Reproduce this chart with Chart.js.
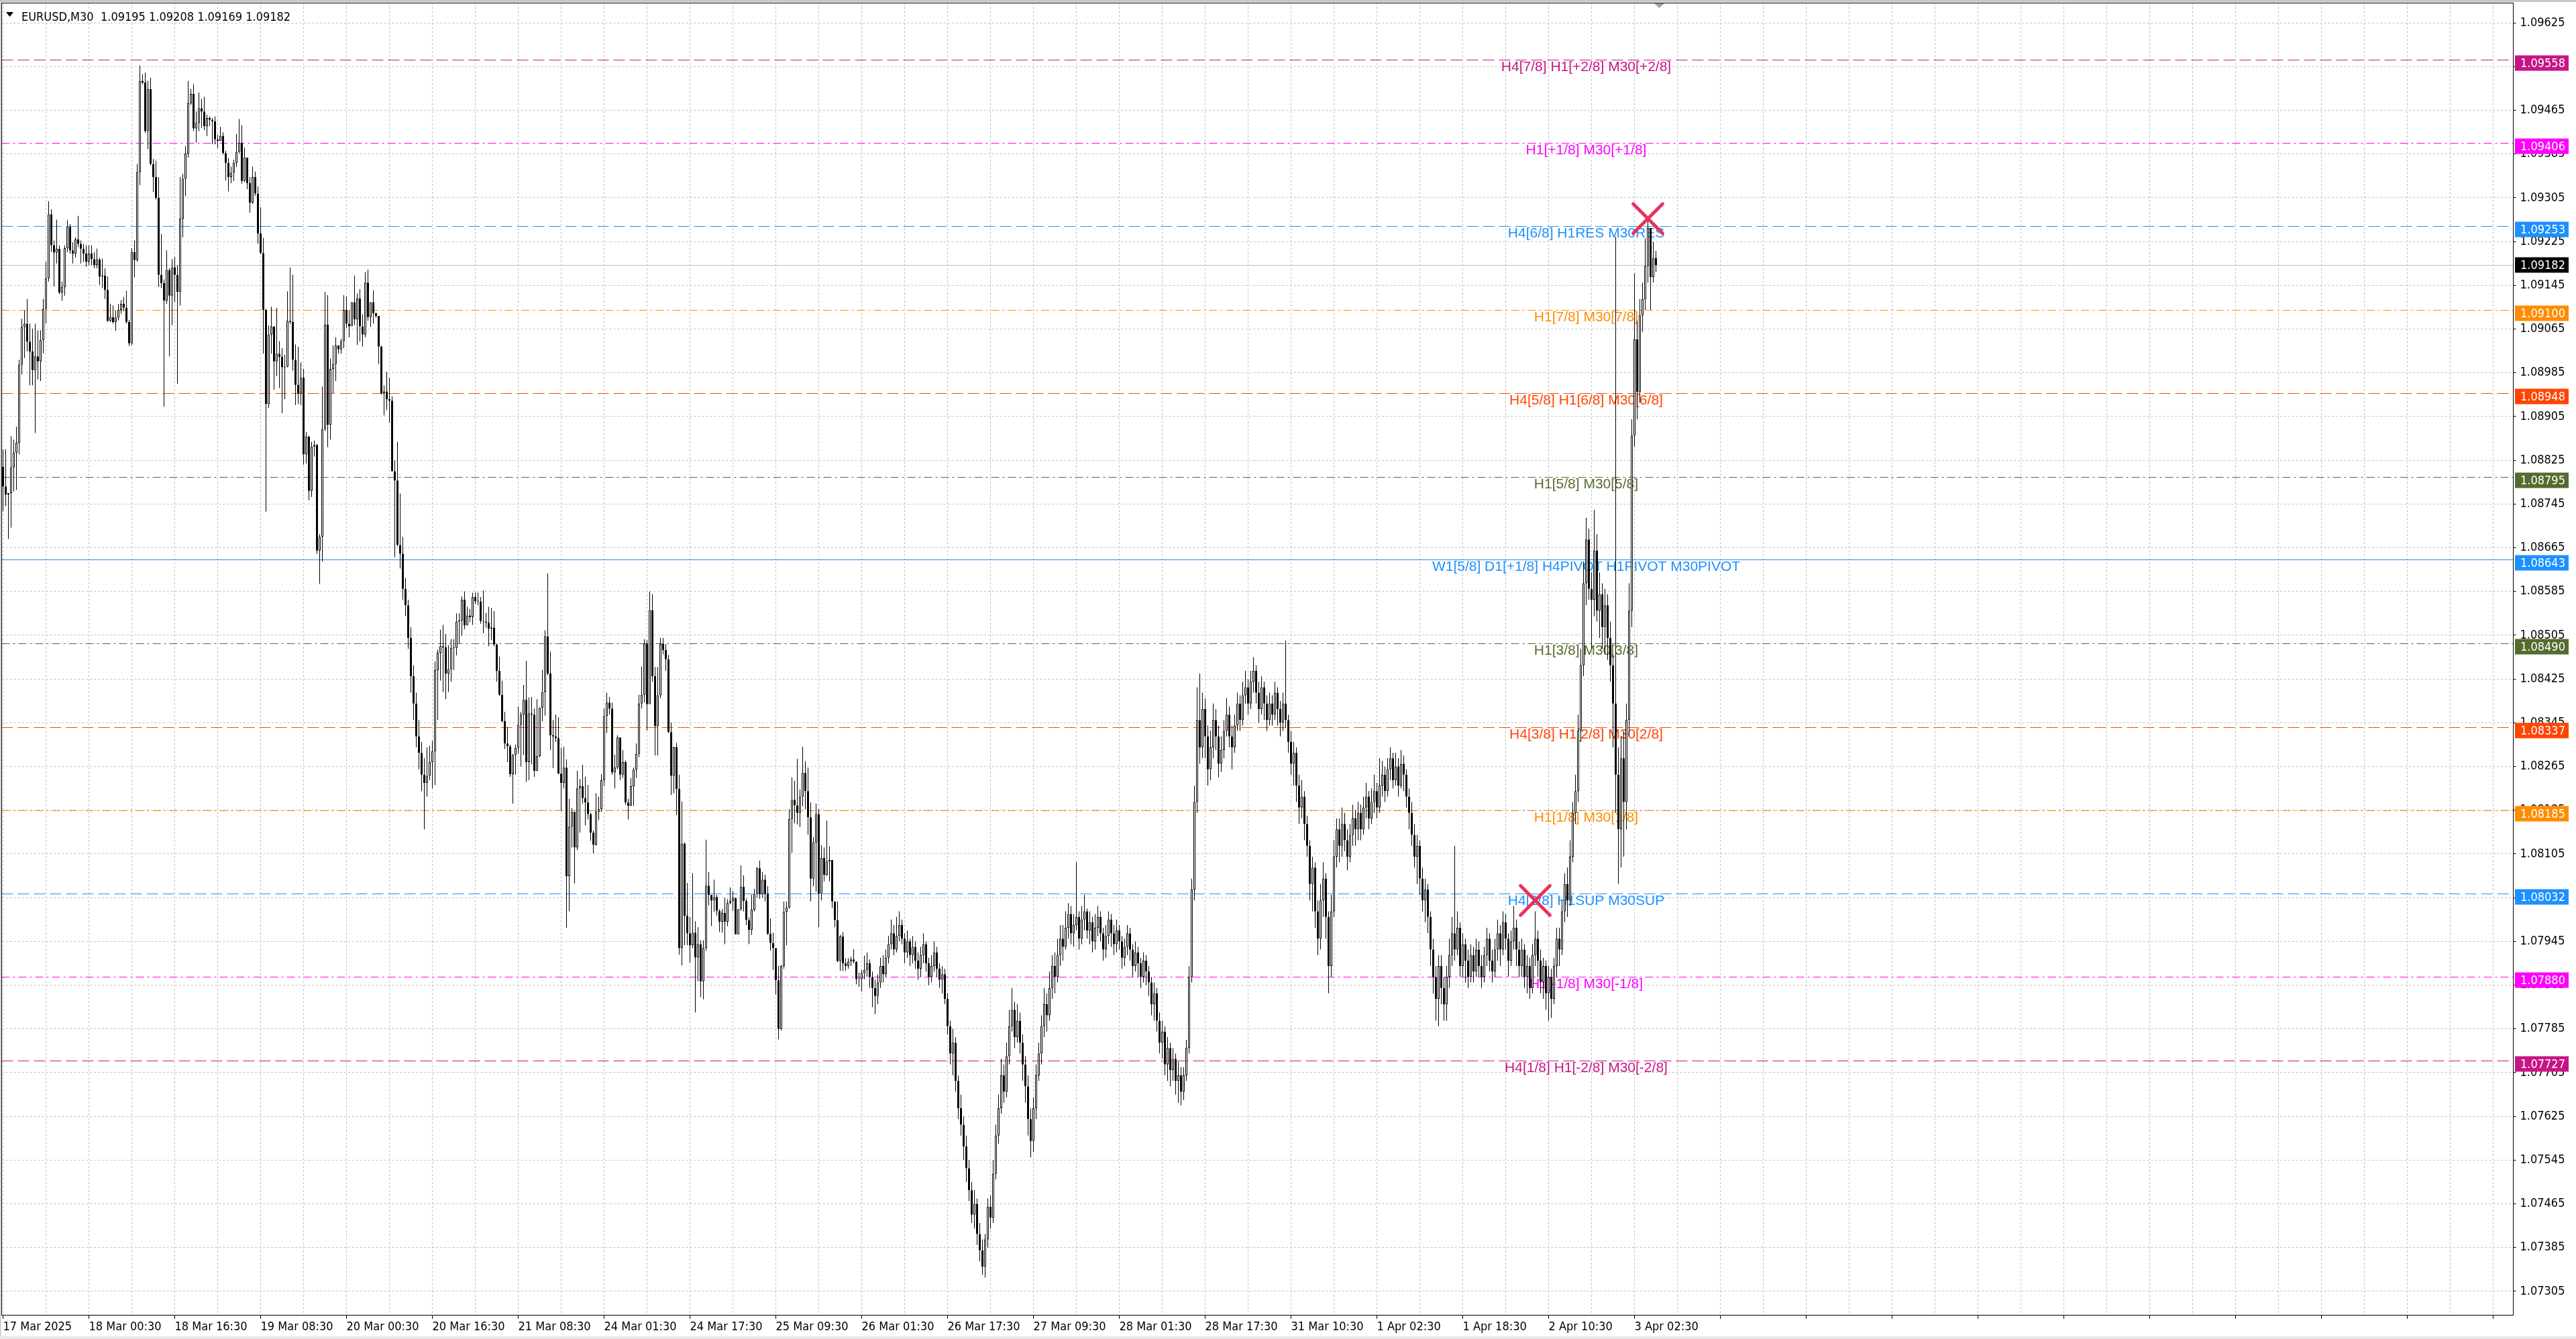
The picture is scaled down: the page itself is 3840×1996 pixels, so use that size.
<!DOCTYPE html>
<html>
<head>
<meta charset="utf-8">
<title>EURUSD,M30</title>
<style>
  html, body { margin: 0; padding: 0; background: #fff; }
  #wrap { width: 3840px; height: 1996px; }
  canvas { display: block; }
</style>
<script src="https://cdn.jsdelivr.net/npm/chart.js@4.4.1/dist/chart.umd.min.js"></script>
</head>
<body>
<div id="wrap"><canvas id="chart" width="3840" height="1996"></canvas></div>
<script>
// prices are the digits after "1.0": 8777 -> 1.08777
const symbolName = 'EURUSD,M30';
const firstOpen = 8813;

const closes = [
  8777, 8762, 8765, 8812, 8839, 8857, 9000, 9069, 9075, 9042,
  9024, 8990, 9015, 9006, 9045, 9102, 9158, 9275, 9218, 9205,
  9212, 9132, 9142, 9213, 9252, 9209, 9203, 9229, 9221, 9212,
  9203, 9188, 9203, 9193, 9182, 9192, 9161, 9163, 9137, 9080,
  9087, 9078, 9086, 9100, 9111, 9104, 9078, 9039, 9206, 9191,
  9352, 9519, 9516, 9427, 9504, 9367, 9343, 9305, 9164, 9149,
  9117, 9173, 9126, 9178, 9164, 9133, 9267, 9340, 9386, 9478,
  9495, 9432, 9442, 9469, 9463, 9436, 9451, 9448, 9445, 9412,
  9409, 9418, 9387, 9369, 9343, 9351, 9369, 9389, 9406, 9336,
  9379, 9332, 9296, 9343, 9313, 9240, 9204, 9100, 8928, 9055,
  9070, 9006, 9020, 9014, 8995, 8996, 9080, 9078, 9009, 8963,
  8947, 8976, 8836, 8868, 8769, 8850, 8853, 8660, 8685, 8882,
  9073, 8890, 8992, 9001, 9035, 9028, 9043, 9100, 9075, 9070,
  9114, 9083, 9121, 9070, 9055, 9150, 9087, 9114, 9094, 9089,
  9033, 8948, 8951, 8937, 8934, 8805, 8788, 8670, 8654, 8590,
  8560, 8500, 8430, 8380, 8320, 8290, 8250, 8235, 8248, 8273,
  8293, 8441, 8473, 8485, 8483, 8435, 8443, 8482, 8482, 8530,
  8532, 8570, 8523, 8541, 8538, 8575, 8567, 8567, 8531, 8530,
  8528, 8517, 8519, 8488, 8440, 8396, 8348, 8307, 8302, 8251,
  8286, 8299, 8341, 8360, 8387, 8273, 8362, 8360, 8257, 8284,
  8372, 8401, 8503, 8435, 8322, 8320, 8317, 8252, 8235, 8263,
  8064, 8155, 8182, 8117, 8225, 8229, 8207, 8199, 8178, 8144,
  8122, 8182, 8187, 8240, 8357, 8382, 8371, 8254, 8263, 8318,
  8250, 8273, 8199, 8193, 8229, 8259, 8288, 8380, 8396, 8490,
  8379, 8551, 8430, 8339, 8395, 8489, 8478, 8461, 8328, 8248,
  8300, 8224, 7933, 8124, 7992, 7960, 7938, 7961, 7916, 7940,
  7872, 7933, 8047, 8030, 8020, 8026, 8001, 7981, 7997, 7981,
  8015, 8019, 8025, 7958, 8004, 8045, 8019, 7984, 7966, 8003,
  8032, 8079, 8031, 8058, 8032, 7959, 7942, 7933, 7874, 7785,
  7900, 7999, 8007, 8169, 8204, 8194, 8180, 8210, 8253, 8220,
  8172, 8060, 8126, 8178, 8032, 8098, 8067, 8091, 8094, 8018,
  7984, 7909, 7954, 7905, 7900, 7908, 7912, 7908, 7876, 7876,
  7887, 7893, 7905, 7880, 7860, 7845, 7870, 7900, 7885, 7915,
  7940, 7960, 7930, 7955, 7975, 7950, 7925, 7945, 7920, 7935,
  7910, 7895, 7920, 7940, 7905, 7880, 7900, 7925, 7895, 7875,
  7885, 7840, 7790, 7740, 7760, 7690, 7640, 7610, 7570, 7530,
  7490, 7445, 7465, 7410, 7380, 7350, 7400, 7460, 7440, 7520,
  7590, 7640, 7700, 7670, 7735, 7790, 7820, 7770, 7800, 7760,
  7720, 7680, 7620, 7580, 7640, 7700, 7740, 7790, 7830, 7810,
  7860, 7900, 7880, 7920, 7950, 7935, 7970, 7995, 7960, 7975,
  7990, 7950, 7985, 8000, 7965, 7980, 7945, 7970, 7990, 7960,
  7930, 7955, 7985, 7960, 7940, 7965, 7945, 7915, 7935, 7960,
  7930, 7900, 7925, 7905, 7880, 7910, 7890, 7870, 7830, 7850,
  7800, 7760, 7780, 7720, 7750, 7710, 7730, 7690, 7700, 7670,
  7700, 7750, 7880, 8040, 8200, 8350, 8300, 8370, 8320, 8260,
  8300, 8350, 8320, 8270, 8295, 8330, 8360, 8320, 8300, 8340,
  8380, 8350, 8395, 8410, 8380, 8420, 8440, 8400, 8370, 8410,
  8380, 8350, 8380, 8360, 8400, 8370, 8345, 8380, 8350, 8310,
  8270, 8290, 8230, 8190, 8210, 8160, 8120, 8050, 8080, 8000,
  7950, 8020, 8060, 7990, 7900, 8000, 8100, 8150, 8120, 8160,
  8130, 8100, 8140, 8170, 8150, 8180, 8150, 8190, 8210, 8170,
  8200, 8220, 8190, 8230, 8250, 8220, 8260, 8280, 8240, 8265,
  8230, 8270, 8250, 8210, 8180, 8140, 8100, 8120, 8060, 8020,
  8040, 7990, 7930, 7880, 7840, 7900, 7860, 7830, 7880, 7920,
  7960, 7930, 7970, 7900, 7940, 7910, 7880, 7920, 7890, 7930,
  7900, 7880, 7920, 7950, 7910, 7890, 7930, 7960, 7930, 7980,
  7950, 7910, 7945, 7970, 7930, 7900, 7930, 7880, 7900, 7860,
  7920, 7950, 7910, 7870, 7900, 7850, 7880, 7840, 7900, 7950,
  7930, 8000, 8050, 8020, 8100, 8180, 8220, 8330, 8450, 8600,
  8680, 8590, 8570, 8660, 8550, 8580, 8520, 8560, 8500, 8450,
  8380, 8250, 8150, 8280, 8200, 8350, 8550, 8870, 9046, 8950,
  9090, 9120, 9180, 9250, 9160, 9195, 9182
];

const highs = [
  8845, 8845, 8765, 8869, 8863, 8887, 9009, 9084, 9099, 9120,
  9075, 9066, 9075, 9063, 9063, 9120, 9188, 9299, 9284, 9227,
  9265, 9218, 9152, 9218, 9264, 9257, 9224, 9233, 9272, 9227,
  9221, 9218, 9218, 9218, 9206, 9212, 9195, 9194, 9176, 9161,
  9111, 9108, 9099, 9111, 9118, 9124, 9135, 9082, 9213, 9227,
  9367, 9547, 9531, 9534, 9519, 9525, 9376, 9373, 9343, 9239,
  9156, 9209, 9176, 9193, 9197, 9182, 9343, 9349, 9400, 9519,
  9504, 9513, 9463, 9498, 9486, 9490, 9457, 9454, 9451, 9454,
  9421, 9435, 9425, 9391, 9378, 9362, 9375, 9422, 9449, 9438,
  9397, 9376, 9343, 9362, 9353, 9326, 9288, 9232, 9102, 9072,
  9106, 9070, 9104, 9043, 9030, 9018, 9134, 9178, 9164, 9037,
  9033, 9004, 8992, 8877, 8870, 8859, 8861, 8855, 8690, 8960,
  9133, 9127, 9011, 9035, 9050, 9035, 9047, 9127, 9125, 9099,
  9114, 9163, 9130, 9138, 9092, 9169, 9174, 9114, 9136, 9095,
  9089, 9035, 8962, 8987, 8976, 8942, 8825, 8859, 8764, 8685,
  8610, 8570, 8520, 8450, 8400, 8350, 8310, 8280, 8300, 8303,
  8312, 8457, 8479, 8515, 8524, 8507, 8487, 8498, 8498, 8545,
  8545, 8576, 8585, 8557, 8553, 8583, 8583, 8583, 8575, 8587,
  8546, 8557, 8555, 8549, 8490, 8466, 8422, 8365, 8337, 8305,
  8288, 8305, 8375, 8365, 8414, 8458, 8391, 8392, 8371, 8388,
  8373, 8442, 8514, 8618, 8475, 8350, 8360, 8355, 8299, 8301,
  8278, 8206, 8189, 8182, 8257, 8242, 8268, 8246, 8231, 8180,
  8148, 8216, 8210, 8251, 8371, 8400, 8392, 8382, 8287, 8322,
  8317, 8295, 8276, 8206, 8244, 8263, 8307, 8396, 8448, 8498,
  8496, 8585, 8580, 8447, 8447, 8500, 8500, 8489, 8469, 8345,
  8301, 8308, 8250, 8201, 8126, 8052, 7990, 8070, 7982, 7971,
  7947, 7947, 8131, 8072, 8030, 8058, 8030, 8004, 8004, 8025,
  8022, 8044, 8037, 8022, 8004, 8084, 8066, 8023, 7989, 8030,
  8041, 8081, 8093, 8072, 8067, 8046, 7987, 7961, 7933, 7900,
  7902, 8018, 8018, 8187, 8245, 8239, 8279, 8223, 8301, 8275,
  8263, 8199, 8136, 8197, 8187, 8121, 8117, 8166, 8119, 8094,
  8018, 8018, 7957, 7962, 7914, 7914, 7917, 7931, 7909, 7888,
  7893, 7919, 7925, 7912, 7890, 7875, 7885, 7915, 7920, 7930,
  7955, 7985, 7975, 7990, 8000, 7985, 7960, 7965, 7950, 7955,
  7945, 7925, 7935, 7960, 7945, 7915, 7920, 7945, 7935, 7905,
  7900, 7895, 7850, 7800, 7785, 7770, 7700, 7665, 7625, 7590,
  7545, 7505, 7490, 7475, 7430, 7400, 7410, 7475, 7480, 7545,
  7610, 7665, 7730, 7720, 7760, 7820, 7860, 7835, 7830, 7815,
  7775, 7735, 7700, 7640, 7660, 7720, 7760, 7810, 7860, 7850,
  7890, 7920, 7925, 7950, 7975, 7975, 8000, 8015, 8010, 7995,
  8090, 8000, 8010, 8030, 8005, 8000, 7990, 7995, 8010, 8000,
  7970, 7975, 8000, 7995, 7975, 7985, 7975, 7955, 7950, 7975,
  7970, 7940, 7945, 7935, 7915, 7925, 7920, 7900, 7880, 7870,
  7860, 7815, 7800, 7790, 7770, 7760, 7750, 7740, 7725, 7715,
  7715, 7765, 7900, 8060, 8230, 8410, 8435, 8400, 8390, 8340,
  8330, 8380, 8370, 8340, 8320, 8350, 8390, 8375, 8340, 8360,
  8400, 8395, 8420, 8440, 8425, 8440, 8465, 8450, 8420, 8430,
  8420, 8395, 8400, 8395, 8420, 8410, 8385, 8400, 8495, 8360,
  8330, 8310, 8300, 8250, 8240, 8220, 8175, 8130, 8100, 8090,
  8020, 8050, 8090, 8070, 8000, 8030, 8130, 8170, 8170, 8190,
  8180, 8150, 8160, 8195, 8185, 8200, 8195, 8210, 8235, 8220,
  8225, 8250, 8235, 8280, 8275, 8265, 8280, 8300, 8290, 8290,
  8280, 8295, 8285, 8260, 8225, 8200, 8160, 8140, 8130, 8080,
  8060, 8050, 8000, 7950, 7900, 7920, 7920, 7880, 7900, 7950,
  7990, 8120, 8000, 7980, 7960, 7950, 7930, 7940, 7935, 7950,
  7945, 7920, 7935, 7970, 7960, 7930, 7950, 7985, 7975, 8000,
  7995, 7960, 7965, 8010, 7985, 7945, 7950, 7940, 7920, 7915,
  7940, 8000, 7965, 7930, 7915, 7910, 7900, 7895, 7915, 7970,
  7970, 8020, 8070, 8080, 8130, 8200, 8250, 8360, 8480, 8640,
  8720, 8700, 8620, 8734, 8690, 8620, 8600, 8590, 8580, 8530,
  8470, 9234, 8300, 8320, 8330, 8380, 8600, 8900, 9167, 9080,
  9120, 9150, 9231, 9265, 9240, 9225, 9208
];

const lows = [
  8732, 8741, 8681, 8702, 8768, 8771, 8836, 8982, 9012, 9024,
  8962, 8962, 8875, 8973, 8970, 9021, 9075, 9152, 9206, 9143,
  9185, 9129, 9117, 9126, 9206, 9203, 9185, 9196, 9215, 9185,
  9188, 9179, 9182, 9182, 9176, 9176, 9146, 9140, 9120, 9078,
  9078, 9075, 9062, 9081, 9093, 9098, 9075, 9034, 9036, 9160,
  9188, 9328, 9513, 9424, 9394, 9364, 9316, 9302, 9142, 9140,
  8923, 9111, 9015, 9072, 9114, 8965, 9108, 9233, 9308, 9379,
  9475, 9427, 9406, 9427, 9433, 9429, 9418, 9436, 9403, 9403,
  9396, 9409, 9384, 9337, 9317, 9332, 9336, 9362, 9386, 9331,
  9334, 9321, 9278, 9294, 9309, 9221, 9202, 9020, 8731, 8921,
  9020, 8954, 8979, 8957, 8911, 8937, 8995, 9074, 8989, 8926,
  8928, 8926, 8817, 8819, 8752, 8758, 8832, 8654, 8599, 8640,
  8879, 8849, 8863, 8948, 8970, 9020, 9020, 9030, 9067, 9050,
  9072, 9072, 9036, 9042, 9033, 9050, 9080, 9069, 9075, 9086,
  9001, 8945, 8907, 8917, 8894, 8804, 8648, 8668, 8627, 8570,
  8540, 8480, 8400, 8350, 8300, 8260, 8220, 8150, 8210, 8240,
  8225, 8231, 8350, 8422, 8401, 8388, 8401, 8420, 8441, 8468,
  8490, 8504, 8516, 8528, 8529, 8524, 8562, 8560, 8526, 8509,
  8519, 8485, 8496, 8485, 8420, 8394, 8346, 8297, 8273, 8246,
  8197, 8250, 8288, 8265, 8286, 8237, 8240, 8269, 8246, 8260,
  8282, 8348, 8358, 8432, 8295, 8262, 8310, 8251, 8184, 8225,
  7970, 8000, 8117, 8051, 8112, 8144, 8197, 8157, 8168, 8129,
  8106, 8120, 8167, 8182, 8229, 8326, 8360, 8250, 8225, 8260,
  8240, 8244, 8195, 8168, 8193, 8193, 8244, 8282, 8371, 8382,
  8331, 8382, 8420, 8285, 8285, 8390, 8470, 8440, 8326, 8213,
  8216, 8176, 7921, 7901, 7938, 7938, 7906, 7933, 7815, 7872,
  7843, 7839, 7928, 8011, 7973, 7999, 7992, 7962, 7961, 7940,
  7973, 8013, 8001, 7958, 7958, 8001, 8000, 7975, 7940, 7957,
  8000, 8025, 8023, 8025, 8018, 7957, 7928, 7893, 7848, 7766,
  7782, 7895, 7938, 8005, 8107, 8161, 8159, 8154, 8192, 8187,
  8140, 8018, 8046, 8036, 7971, 8020, 8055, 8065, 8055, 8006,
  7971, 7907, 7891, 7891, 7891, 7895, 7900, 7905, 7867, 7862,
  7853, 7876, 7880, 7860, 7825, 7812, 7830, 7860, 7870, 7880,
  7905, 7930, 7920, 7925, 7945, 7940, 7905, 7915, 7900, 7905,
  7895, 7875, 7880, 7905, 7890, 7865, 7870, 7890, 7880, 7860,
  7850, 7830, 7775, 7720, 7700, 7670, 7620, 7590, 7545, 7505,
  7470, 7430, 7420, 7390, 7360, 7335, 7330, 7385, 7420, 7430,
  7510, 7575, 7630, 7650, 7660, 7720, 7780, 7750, 7760, 7740,
  7690, 7650, 7590, 7550, 7560, 7620, 7690, 7720, 7770, 7780,
  7800, 7840, 7850, 7870, 7900, 7910, 7930, 7950, 7940, 7935,
  7965, 7930, 7940, 7965, 7950, 7940, 7925, 7930, 7955, 7945,
  7910, 7915, 7940, 7935, 7920, 7925, 7930, 7895, 7900, 7920,
  7910, 7880, 7890, 7880, 7860, 7870, 7865, 7845, 7810, 7800,
  7780, 7740, 7730, 7700, 7690, 7680, 7690, 7665, 7650, 7645,
  7655, 7690, 7740, 7870, 8020, 8180, 8270, 8280, 8280, 8230,
  8240, 8280, 8295, 8245, 8255, 8280, 8320, 8300, 8260, 8290,
  8330, 8330, 8340, 8380, 8360, 8370, 8400, 8380, 8345, 8360,
  8350, 8330, 8340, 8340, 8350, 8340, 8320, 8330, 8335, 8290,
  8250, 8230, 8200, 8160, 8170, 8130, 8100, 8020, 8000, 7970,
  7920, 7930, 7990, 7950, 7850, 7880, 7990, 8080, 8090, 8100,
  8110, 8075, 8090, 8120, 8120, 8130, 8130, 8140, 8170, 8150,
  8160, 8180, 8170, 8180, 8210, 8200, 8210, 8240, 8225, 8230,
  8210, 8225, 8220, 8190, 8150, 8120, 8080, 8050, 8030, 8000,
  7980, 7960, 7900, 7850, 7800, 7790, 7830, 7800, 7800, 7860,
  7900, 7910, 7920, 7880, 7880, 7870, 7860, 7870, 7870, 7880,
  7880, 7860, 7870, 7900, 7890, 7870, 7880, 7910, 7900, 7920,
  7930, 7880, 7900, 7930, 7900, 7880, 7880, 7860, 7850, 7840,
  7850, 7900, 7880, 7850, 7840, 7820, 7800, 7805, 7830, 7880,
  7900, 7920, 7980, 7990, 8010, 8090, 8160, 8200, 8310, 8430,
  8560, 8570, 8480, 8540, 8530, 8500, 8480, 8470, 8460, 8420,
  8300, 8180, 8050, 8080, 8100, 8150, 8320, 8520, 8850, 8900,
  8930, 9060, 9100, 9150, 9100, 9150, 9169
];

// Murrey math levels drawn across the chart
const levelPrices = [1.09558, 1.09406, 1.09253, 1.09100, 1.08948, 1.08795, 1.08643,
                     1.08490, 1.08337, 1.08185, 1.08032, 1.07880, 1.07727];
const levelNames = [
  'H4[7/8] H1[+2/8] M30[+2/8]',
  'H1[+1/8] M30[+1/8]',
  'H4[6/8] H1RES M30RES',
  'H1[7/8] M30[7/8]',
  'H4[5/8] H1[6/8] M30[6/8]',
  'H1[5/8] M30[5/8]',
  'W1[5/8] D1[+1/8] H4PIVOT H1PIVOT M30PIVOT',
  'H1[3/8] M30[3/8]',
  'H4[3/8] H1[2/8] M30[2/8]',
  'H1[1/8] M30[1/8]',
  'H4[2/8] H1SUP M30SUP',
  'H1[-1/8] M30[-1/8]',
  'H4[1/8] H1[-2/8] M30[-2/8]'
];

// signal crosses (bar index, price)
const signalBars = [613, 571];
const signalPrices = [1.09267, 1.08020];

const priceTicks = [1.09625, 1.09545, 1.09465, 1.09385, 1.09305, 1.09225, 1.09145, 1.09065,
                    1.08985, 1.08905, 1.08825, 1.08745, 1.08665, 1.08585, 1.08505, 1.08425,
                    1.08345, 1.08265, 1.08185, 1.08105, 1.08025, 1.07945, 1.07865, 1.07785,
                    1.07705, 1.07625, 1.07545, 1.07465, 1.07385, 1.07305];
const timeLabels = ['17 Mar 2025', '18 Mar 00:30', '18 Mar 16:30', '19 Mar 08:30', '20 Mar 00:30',
                    '20 Mar 16:30', '21 Mar 08:30', '24 Mar 01:30', '24 Mar 17:30', '25 Mar 09:30',
                    '26 Mar 01:30', '26 Mar 17:30', '27 Mar 09:30', '28 Mar 01:30', '28 Mar 17:30',
                    '31 Mar 10:30', '1 Apr 02:30', '1 Apr 18:30', '2 Apr 10:30', '3 Apr 02:30'];

// styles
const levelColors = ['#C71585', '#FF00FF', '#1E90FF', '#FF8C00', '#FF4500', '#556B2F', '#1E90FF',
                     '#556B2F', '#FF4500', '#FF8C00', '#1E90FF', '#FF00FF', '#C71585'];
const levelDash = ['dash', 'dashdot', 'dash', 'dashdot', 'dash', 'dashdot', 'solid',
                   'dashdot', 'dash', 'dashdot', 'dash', 'dashdot', 'dash'];
const dashPatterns = { solid: [], dash: [17, 7], dashdot: [12, 5, 3, 5] };
const SLOTS = 936;          // 4px per bar across the plot
const LABEL_BAR = 590;      // level captions are centred on this bar
const BARS_PER_LABEL = 32;
const AXIS_FAMILY = "'DejaVu Sans Condensed', 'DejaVu Sans', sans-serif";
const LEVEL_FONT = "21px 'Liberation Sans', Arial, sans-serif";

const toPrice = v => 1 + v / 100000;
const openOf = i => (i === 0 ? firstOpen : closes[i - 1]);

const slotLabels = Array.from({ length: SLOTS }, (_, i) => i);
const bodyData = closes.map((c, i) => [toPrice(openOf(i)), toPrice(c)]);
const wickData = highs.map((h, i) => [toPrice(lows[i]), toPrice(h)]);
const bodyFill = closes.map((c, i) => (c > openOf(i) ? '#ffffff' : '#000000'));
const lastIdx = closes.length - 1;
const lastPrice = toPrice(closes[lastIdx]);

const overlayPlugin = {
  id: 'overlay',
  beforeDatasetsDraw(chart) {
    const { ctx, chartArea: a, scales: { x, y } } = chart;
    ctx.save();
    ctx.beginPath();
    ctx.rect(a.left, a.top, a.width, a.height);
    ctx.clip();
    ctx.lineWidth = 1;

    // current bid line
    const py = Math.round(y.getPixelForValue(lastPrice)) + 0.5;
    ctx.strokeStyle = '#c0c0c0';
    ctx.setLineDash([]);
    ctx.beginPath();
    ctx.moveTo(a.left, py);
    ctx.lineTo(a.right, py);
    ctx.stroke();

    levelPrices.forEach((p, i) => {
      const ly = Math.round(y.getPixelForValue(p)) + 0.5;
      ctx.strokeStyle = levelColors[i];
      ctx.setLineDash(dashPatterns[levelDash[i]]);
      ctx.beginPath();
      ctx.moveTo(a.left, ly);
      ctx.lineTo(a.right, ly);
      ctx.stroke();
    });
    ctx.setLineDash([]);

    ctx.font = LEVEL_FONT;
    ctx.textAlign = 'center';
    ctx.textBaseline = 'top';
    const tx = x.getPixelForValue(LABEL_BAR);
    levelPrices.forEach((p, i) => {
      ctx.fillStyle = levelColors[i];
      ctx.fillText(levelNames[i], tx, Math.round(y.getPixelForValue(p)) + 1);
    });
    ctx.restore();
  },
  beforeDatasetDraw(chart, args) {
    if (args.index === 2) chart.ctx.lineCap = 'round';
  },
  afterDatasetDraw(chart, args) {
    if (args.index === 2) chart.ctx.lineCap = 'butt';
  },
  afterDraw(chart) {
    const { ctx, chartArea: a, scales: { y } } = chart;
    ctx.save();

    // window edges
    ctx.fillStyle = '#c8c8c8';
    ctx.fillRect(0, 0, chart.width, 3);
    ctx.fillRect(0, 0, 1.5, chart.height);
    ctx.fillStyle = '#e6e6e6';
    ctx.fillRect(0, chart.height - 4, chart.width, 4);

    // chart frame
    ctx.strokeStyle = '#000';
    ctx.lineWidth = 1;
    ctx.strokeRect(a.left, a.top + 0.5, a.right - a.left, a.bottom - a.top);

    // chart shift marker
    ctx.fillStyle = '#a0a0a0';
    ctx.beginPath();
    ctx.moveTo(2466, a.top + 1);
    ctx.lineTo(2481, a.top + 1);
    ctx.lineTo(2473.5, a.top + 8);
    ctx.closePath();
    ctx.fill();

    // price boxes on the right axis
    ctx.font = '18px ' + AXIS_FAMILY;
    ctx.textAlign = 'left';
    ctx.textBaseline = 'middle';
    levelPrices.forEach((p, i) => {
      const cy = Math.round(y.getPixelForValue(p)) + 5;
      ctx.fillStyle = levelColors[i];
      ctx.fillRect(a.right + 2.5, cy - 11.5, 80, 23);
      ctx.fillStyle = '#fff';
      ctx.fillText(p.toFixed(5), a.right + 10.5, cy + 1);
    });
    const by = Math.round(y.getPixelForValue(lastPrice));
    ctx.fillStyle = '#000';
    ctx.fillRect(a.right + 2.5, by - 11.5, 80, 23);
    ctx.fillStyle = '#fff';
    ctx.fillText(lastPrice.toFixed(5), a.right + 10.5, by + 1);

    // header: symbol and last bar OHLC
    ctx.fillStyle = '#000';
    ctx.beginPath();
    ctx.moveTo(9, 18);
    ctx.lineTo(20, 18);
    ctx.lineTo(14.5, 25);
    ctx.closePath();
    ctx.fill();
    const ohlc = [openOf(lastIdx), highs[lastIdx], lows[lastIdx], closes[lastIdx]]
      .map(v => toPrice(v).toFixed(5)).join(' ');
    ctx.font = '18px ' + AXIS_FAMILY;
    ctx.textBaseline = 'alphabetic';
    ctx.fillText(symbolName + '  ' + ohlc, 32, 31);
    ctx.restore();
  }
};

new Chart(document.getElementById('chart'), {
  type: 'bar',
  data: {
    labels: slotLabels,
    datasets: [
      {
        label: 'body',
        data: bodyData,
        backgroundColor: bodyFill,
        borderColor: '#000',
        borderWidth: 1,
        borderSkipped: false,
        barThickness: 3,
        minBarLength: 1,
        inflateAmount: 0,
        grouped: false,
        order: 1
      },
      {
        label: 'wick',
        data: wickData,
        backgroundColor: '#000',
        borderWidth: 0,
        barThickness: 1,
        inflateAmount: 0,
        grouped: false,
        order: 2
      },
      {
        type: 'scatter',
        label: 'signals',
        data: signalBars.map((b, i) => ({ x: b, y: signalPrices[i] })),
        pointStyle: 'crossRot',
        pointRadius: 31,
        borderColor: '#e8325a',
        borderWidth: 5,
        order: 0
      }
    ]
  },
  options: {
    responsive: false,
    devicePixelRatio: 1,
    animation: false,
    events: [],
    layout: { autoPadding: false, padding: { left: 2.5, top: 4, right: 0, bottom: 0 } },
    plugins: { legend: { display: false }, tooltip: { enabled: false } },
    scales: {
      x: {
        type: 'category',
        offset: true,
        grid: {
          offset: false,
          color: c => (c.index % 16 === 0 ? '#c0c0c0' : 'rgba(0,0,0,0)'),
          tickColor: c => (c.index % BARS_PER_LABEL === 0 ? '#000' : 'rgba(0,0,0,0)'),
          tickLength: 6,
          lineWidth: 1
        },
        border: { display: false, dash: [3, 3] },
        ticks: {
          autoSkip: false,
          maxRotation: 0,
          minRotation: 0,
          align: 'start',
          padding: 2,
          color: '#000',
          font: { family: AXIS_FAMILY, size: 18 },
          callback: (v, i) => (i % BARS_PER_LABEL === 0 && timeLabels[i / BARS_PER_LABEL]) || ''
        },
        afterFit: s => {
          s.height = 36;
          s.paddingLeft = 0;
          s.paddingRight = 0;
        }
      },
      y: {
        type: 'linear',
        position: 'right',
        min: 1.07262,
        max: 1.09662,
        bounds: 'data',
        afterBuildTicks: s => { s.ticks = priceTicks.map(v => ({ value: v })); },
        grid: { color: '#c0c0c0', lineWidth: 1, tickLength: 4, tickColor: '#000' },
        border: { display: false, dash: [3, 3] },
        ticks: {
          autoSkip: false,
          padding: 6,
          color: '#000',
          font: { family: AXIS_FAMILY, size: 18 },
          callback: v => v.toFixed(5)
        },
        afterFit: s => {
          s.width = 93.5;
          s.paddingTop = 0;
          s.paddingBottom = 0;
        }
      }
    }
  },
  plugins: [overlayPlugin]
});
</script>
</body>
</html>
